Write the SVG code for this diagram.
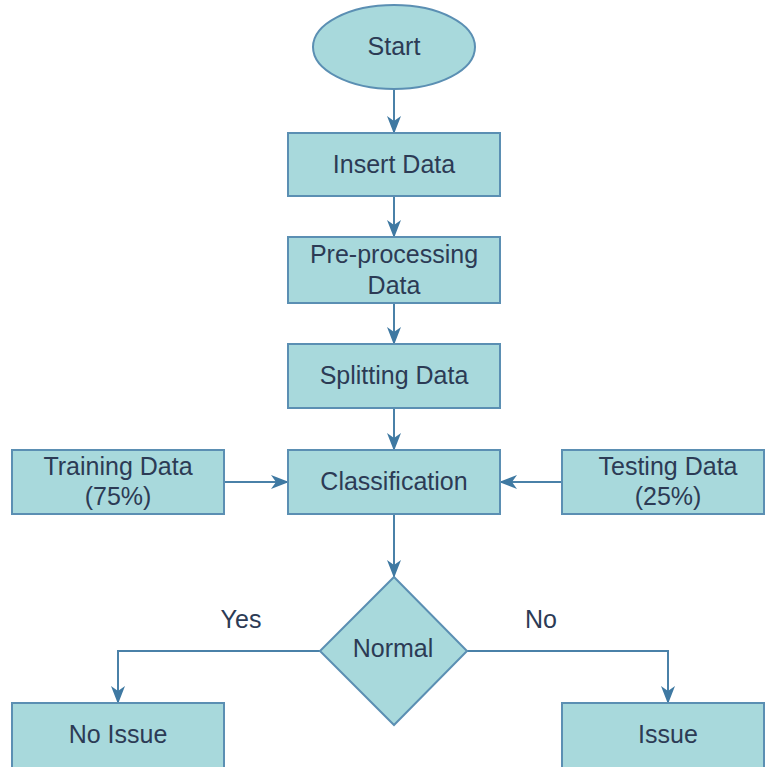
<svg xmlns="http://www.w3.org/2000/svg" width="766" height="767" viewBox="0 0 766 767">
  <style>
    .shape { fill: #a8d9dc; stroke: #5b8fb3; stroke-width: 2; }
    .label { font-family: "Liberation Sans", Arial, sans-serif; font-size: 25px; fill: #2c3b55; text-anchor: middle; }
    .edge { fill: none; stroke: #4a81a8; stroke-width: 2; }
  </style>
  <defs>
    <marker id="arrow" viewBox="0 0 18 16" refX="17" refY="8" markerWidth="18" markerHeight="16" markerUnits="userSpaceOnUse" orient="auto">
      <path d="M0,1 L18,8 L0,15 L5,8 Z" fill="#3f79a2"/>
    </marker>
  </defs>
  <rect width="766" height="767" fill="#ffffff"/>

  <g id="connectors">
    <path class="edge" d="M394,90 V133" marker-end="url(#arrow)"/>
    <path class="edge" d="M394,196 V237" marker-end="url(#arrow)"/>
    <path class="edge" d="M394,303 V344" marker-end="url(#arrow)"/>
    <path class="edge" d="M394,408 V450" marker-end="url(#arrow)"/>
    <path class="edge" d="M224,482 H288" marker-end="url(#arrow)"/>
    <path class="edge" d="M562,482 H500" marker-end="url(#arrow)"/>
    <path class="edge" d="M394,514 V577" marker-end="url(#arrow)"/>
    <path class="edge" d="M320,651 H118 V703" marker-end="url(#arrow)"/>
    <path class="edge" d="M467,651 H668 V703" marker-end="url(#arrow)"/>
    <text class="label" x="241" y="628">Yes</text>
    <text class="label" x="541" y="628">No</text>
  </g>

  <g id="start">
    <ellipse class="shape" cx="394" cy="47" rx="81" ry="42"/>
    <text class="label" x="394" y="55">Start</text>
  </g>
  <g id="insert-data">
    <rect class="shape" x="288" y="133" width="212" height="63"/>
    <text class="label" x="394" y="173">Insert Data</text>
  </g>
  <g id="preprocessing">
    <rect class="shape" x="288" y="237" width="212" height="66"/>
    <text class="label" x="394" y="263">Pre-processing</text>
    <text class="label" x="394" y="294">Data</text>
  </g>
  <g id="splitting">
    <rect class="shape" x="288" y="344" width="212" height="64"/>
    <text class="label" x="394" y="384">Splitting Data</text>
  </g>
  <g id="training">
    <rect class="shape" x="12" y="450" width="212" height="64"/>
    <text class="label" x="118" y="475">Training Data</text>
    <text class="label" x="118" y="505">(75%)</text>
  </g>
  <g id="classification">
    <rect class="shape" x="288" y="450" width="212" height="64"/>
    <text class="label" x="394" y="490">Classification</text>
  </g>
  <g id="testing">
    <rect class="shape" x="562" y="450" width="202" height="64"/>
    <text class="label" x="668" y="475">Testing Data</text>
    <text class="label" x="668" y="505">(25%)</text>
  </g>
  <g id="normal">
    <polygon class="shape" points="394,577 467,651 394,725 320,651"/>
    <text class="label" x="393" y="657">Normal</text>
  </g>
  <g id="no-issue">
    <rect class="shape" x="12" y="703" width="212" height="70"/>
    <text class="label" x="118" y="743">No Issue</text>
  </g>
  <g id="issue">
    <rect class="shape" x="562" y="703" width="202" height="70"/>
    <text class="label" x="668" y="743">Issue</text>
  </g>
</svg>
